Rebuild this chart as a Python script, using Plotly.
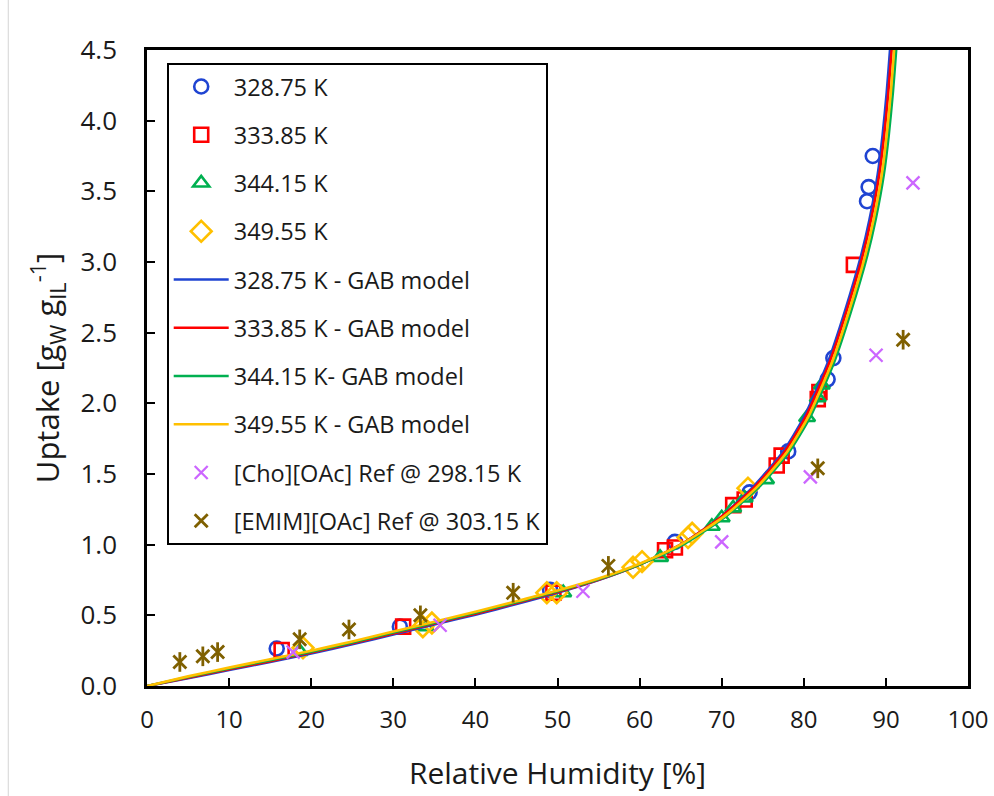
import plotly.graph_objects as go

# ---------------- data ----------------
T1_X = [15.8, 30.8, 49.1, 64.3, 73.4, 78.1, 82.9, 83.6, 87.7, 87.9, 88.4]
T1_Y = [0.265, 0.42, 0.68, 1.02, 1.37, 1.66, 2.17, 2.32, 3.43, 3.53, 3.75]

T2_X = [16.4, 31.2, 49.5, 63.1, 64.3, 71.4, 72.8, 76.7, 77.3, 81.7, 81.9, 86.1]
T2_Y = [0.255, 0.42, 0.66, 0.96, 0.98, 1.28, 1.32, 1.56, 1.63, 2.03, 2.08, 2.98]

T3_X = [18.6, 33.9, 50.7, 62.5, 68.8, 70.0, 71.4, 72.8, 75.4, 80.4, 81.7, 82.2]
T3_Y = [0.245, 0.42, 0.66, 0.91, 1.13, 1.19, 1.26, 1.33, 1.46, 1.90, 2.04, 2.13]

T4_X = [19.0, 33.6, 34.7, 48.7, 49.9, 59.2, 60.3, 65.9, 66.4, 73.2]
T4_Y = [0.27, 0.42, 0.445, 0.66, 0.66, 0.84, 0.88, 1.05, 1.08, 1.40]

CHO_X = [17.8, 35.7, 53.1, 70.0, 80.8, 88.8, 93.3]
CHO_Y = [0.24, 0.43, 0.67, 1.02, 1.48, 2.34, 3.56]

EMIM_X = [4.0, 6.8, 8.6, 18.6, 24.6, 33.3, 44.6, 56.2, 81.7, 92.1]
EMIM_Y = [0.17, 0.21, 0.24, 0.33, 0.40, 0.50, 0.66, 0.85, 1.54, 2.45]

# GAB model curves
GAB1_X = [0, 5, 10, 15, 20, 25, 30, 35, 40, 45, 50, 55, 60, 65, 70, 74, 77.5, 80, 83, 85, 87, 88, 89, 89.6, 90.1, 90.5, 90.8]
GAB1_Y = [0, 0.055, 0.113, 0.17, 0.23, 0.295, 0.365, 0.435, 0.505, 0.58, 0.66, 0.75, 0.86, 1.0, 1.2, 1.42, 1.66, 1.9, 2.3, 2.65, 3.05, 3.3, 3.62, 3.9, 4.2, 4.5, 4.75]

GAB2_X = [0, 5, 10, 15, 20, 25, 30, 35, 40, 45, 50, 55, 60, 65, 70, 74.2, 77.7, 80.2, 83.2, 85.2, 87.2, 88.2, 89.2, 89.8, 90.3, 90.7, 91.0]
GAB2_Y = [0, 0.058, 0.118, 0.176, 0.237, 0.302, 0.372, 0.442, 0.512, 0.587, 0.665, 0.752, 0.86, 1.0, 1.2, 1.42, 1.66, 1.9, 2.3, 2.65, 3.05, 3.3, 3.62, 3.9, 4.2, 4.5, 4.75]

GAB3_X = [0, 5, 10, 15, 20, 25, 30, 35, 40, 45, 50, 55, 60, 65.3, 70.5, 74.75, 78.25, 80.75, 83.75, 85.75, 87.75, 88.75, 89.75, 90.35, 90.85, 91.25, 91.55]
GAB3_Y = [0, 0.064, 0.124, 0.183, 0.243, 0.308, 0.378, 0.448, 0.518, 0.593, 0.67, 0.755, 0.86, 1.0, 1.2, 1.42, 1.66, 1.9, 2.3, 2.65, 3.05, 3.3, 3.62, 3.9, 4.2, 4.5, 4.75]

GAB4_X = [0, 5, 10, 15, 20, 25, 30, 35, 40, 45, 50, 55, 60, 65, 70.3, 74.5, 78, 80.5, 83.5, 85.5, 87.5, 88.5, 89.5, 90.1, 90.6, 91.0, 91.3]
GAB4_Y = [0, 0.068, 0.13, 0.19, 0.25, 0.315, 0.385, 0.455, 0.525, 0.6, 0.675, 0.76, 0.865, 1.0, 1.2, 1.42, 1.66, 1.9, 2.3, 2.65, 3.05, 3.3, 3.62, 3.9, 4.2, 4.5, 4.75]

X_TICKS = [0, 10, 20, 30, 40, 50, 60, 70, 80, 90, 100]
Y_TICKS = [0.0, 0.5, 1.0, 1.5, 2.0, 2.5, 3.0, 3.5, 4.0, 4.5]

# ---------------- styles ----------------
BLUE = "#1f44d2"
RED = "#ff0000"
GREEN = "#00b050"
YELLOW = "#ffc000"
PURPLE = "#cc66ff"
BROWN = "#7f6000"
FONT = "Open Sans"
TXT = "#1a1a1a"

fig = go.Figure()

def mk(name, x, y, symbol, color, size=14, lw=2.6, group=None):
    fig.add_trace(go.Scatter(
        x=x, y=y, mode="markers", name=name, legendgroup=group or name,
        marker=dict(symbol=symbol, size=size, color=color,
                    line=dict(color=color, width=lw)),
    ))

def ln(name, x, y, color):
    fig.add_trace(go.Scatter(
        x=x, y=y, mode="lines", name=name, legendgroup=name,
        line=dict(color=color, width=2.6, shape="spline", smoothing=0.6),
    ))

mk("328.75 K", T1_X, T1_Y, "circle-open", BLUE, size=14)
mk("333.85 K", T2_X, T2_Y, "square-open", RED, size=14)
mk("344.15 K", T3_X, T3_Y, "triangle-up-open", GREEN, size=14)
mk("349.55 K", T4_X, T4_Y, "diamond-open", YELLOW, size=16)
ln("328.75 K - GAB model", GAB1_X, GAB1_Y, BLUE)
ln("333.85 K - GAB model", GAB2_X, GAB2_Y, RED)
ln("344.15 K- GAB model", GAB3_X, GAB3_Y, GREEN)
ln("349.55 K - GAB model", GAB4_X, GAB4_Y, YELLOW)
mk("[Cho][OAc] Ref @ 298.15 K", CHO_X, CHO_Y, "x-thin-open", PURPLE, size=13, lw=2.3)
mk("[EMIM][OAc] Ref @ 303.15 K", EMIM_X, EMIM_Y, "x-thin-open", BROWN, size=13, lw=2.8)
# vertical stroke of the Excel "star" marker
fig.add_trace(go.Scatter(
    x=EMIM_X, y=EMIM_Y, mode="markers", showlegend=False,
    legendgroup="[EMIM][OAc] Ref @ 303.15 K", hoverinfo="skip",
    marker=dict(symbol="line-ns-open", size=14, color=BROWN,
                line=dict(color=BROWN, width=2.8)),
))

axis_common = dict(
    showline=True, linecolor="black", linewidth=2.5, mirror=True,
    ticks="inside", ticklen=8, tickwidth=2, tickcolor="black",
    showgrid=False, zeroline=False,
)

fig.update_layout(
    width=994, height=796,
    margin=dict(l=147, r=26, t=50, b=110),
    paper_bgcolor="white", plot_bgcolor="white",
    font=dict(family=FONT, color=TXT),
    showlegend=True,
    legend=dict(
        x=0.024, y=0.98, xanchor="left", yanchor="top",
        bordercolor="black", borderwidth=2, bgcolor="white",
        font=dict(family=FONT, size=23.5, color=TXT),
        traceorder="grouped", tracegroupgap=14.7,
        itemwidth=55,
    ),
    xaxis=dict(
        range=[0, 100], tickvals=X_TICKS, ticktext=[str(v) for v in X_TICKS],
        tickfont=dict(family=FONT, size=24, color=TXT),
        ticklabelstandoff=10,
        automargin=False,
        title=dict(text="Relative Humidity [%]", font=dict(family=FONT, size=30, color=TXT),
                   standoff=30),
        **axis_common,
    ),
    yaxis=dict(
        range=[0, 4.5], tickvals=Y_TICKS, ticktext=[f"{v:.1f}" for v in Y_TICKS],
        tickfont=dict(family=FONT, size=26, color=TXT),
        ticklabelstandoff=22,
        title=dict(text="Uptake [g<sub>W</sub> g<sub>IL</sub><sup>-1</sup>]",
                   font=dict(family=FONT, size=31, color=TXT), standoff=12),
        **axis_common,
    ),
    shapes=[dict(type="line", xref="paper", yref="paper",
                 x0=-0.169, x1=-0.169, y0=-0.173, y1=1.079,
                 line=dict(color="#d4d4d4", width=1))],
)

fig.write_html("out.html")
